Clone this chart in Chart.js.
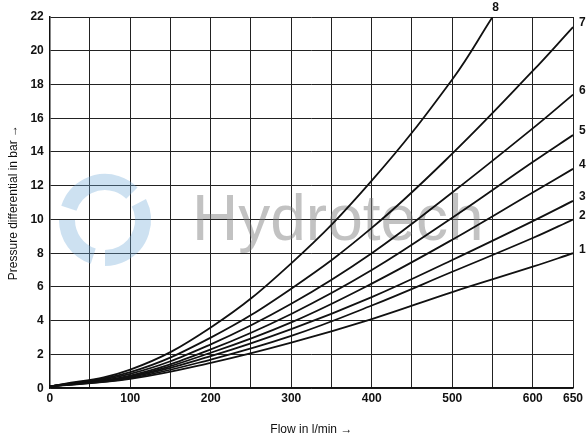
<!DOCTYPE html>
<html>
<head>
<meta charset="utf-8">
<script src="https://cdn.jsdelivr.net/npm/chart.js@4/dist/chart.umd.min.js"></script>
<style>
  html, body { margin: 0; padding: 0; background: #fff; }
  #wrap { width: 587px; height: 441px; position: relative; }
</style>
</head>
<body>
<div id="wrap"><canvas id="chart"></canvas></div>
<script>
const flowPoints = [0, 100, 200, 300, 400, 500, 600, 650];
const curve1 = [0.1, 0.55, 1.5, 2.7, 4.1, 5.7, 7.2, 8.0];
const curve2 = [0.1, 0.6, 1.7, 3.1, 4.9, 6.9, 8.9, 10.0];
const curve3 = [0.1, 0.65, 1.9, 3.5, 5.4, 7.6, 9.9, 11.1];
const curve4 = [0.1, 0.7, 2.1, 3.9, 6.2, 8.8, 11.6, 13.0];
const curve5 = [0.1, 0.75, 2.3, 4.4, 7.0, 10.1, 13.4, 15.0];
const curve6 = [0.1, 0.85, 2.6, 5.0, 8.0, 11.6, 15.4, 17.4];
const curve7 = [0.1, 0.95, 3.0, 5.9, 9.5, 13.9, 18.8, 21.4];
const flowPoints8 = [0, 100, 200, 300, 400, 500, 550];
const curve8 = [0.1, 1.1, 3.6, 7.4, 12.3, 18.3, 22.0];
const curveLabels = ['1', '2', '3', '4', '5', '6', '7', '8'];

function pts(xs, ys) { return xs.map((x, i) => ({ x: x, y: ys[i] })); }

const series = [curve1, curve2, curve3, curve4, curve5, curve6, curve7];
const datasets = series.map((s, i) => ({
    label: curveLabels[i],
    data: pts(flowPoints, s)
}));
datasets.push({ label: curveLabels[7], data: pts(flowPoints8, curve8) });
datasets.forEach(d => {
    d.borderColor = '#111';
    d.borderWidth = 1.8;
    d.pointRadius = 0;
    d.tension = 0.4;
    d.fill = false;
});

const fontFam = "'Liberation Sans Narrow', 'Liberation Sans', Arial, sans-serif";

const watermark = {
    id: 'watermark',
    beforeDatasetsDraw(chart) {
        const { ctx } = chart;
        ctx.save();
        ctx.globalAlpha = 0.35;
        ctx.strokeStyle = '#6fa8d6';
        ctx.lineWidth = 16;
        ctx.beginPath(); ctx.arc(105, 220, 38, Math.PI * 1.1, Math.PI * 1.75); ctx.stroke();
        ctx.beginPath(); ctx.arc(105, 220, 38, Math.PI * 1.85, Math.PI * 0.5); ctx.stroke();
        ctx.beginPath(); ctx.arc(105, 220, 38, Math.PI * 0.6, Math.PI * 1.0); ctx.stroke();
        ctx.globalAlpha = 0.45;
        ctx.fillStyle = '#777';
        ctx.font = "64px 'Liberation Sans', Arial, sans-serif";
        ctx.textBaseline = 'middle';
        ctx.fillText('Hydrotech', 192, 222);
        ctx.restore();
    }
};

const endLabels = {
    id: 'endLabels',
    afterDatasetsDraw(chart) {
        const { ctx } = chart;
        ctx.save();
        ctx.fillStyle = '#111';
        ctx.font = "bold 12px " + fontFam;
        chart.data.datasets.forEach((d, i) => {
            const el = chart.getDatasetMeta(i).data;
            const last = el[el.length - 1];
            if (i === 7) {
                ctx.textAlign = 'center';
                ctx.textBaseline = 'bottom';
                ctx.fillText(d.label, last.x + 3, last.y - 3);
            } else {
                ctx.textAlign = 'left';
                ctx.textBaseline = 'middle';
                ctx.fillText(d.label, last.x + 6, last.y - 4);
            }
        });
        ctx.restore();
    }
};

new Chart(document.getElementById('chart'), {
    type: 'line',
    data: { datasets: datasets },
    options: {
        responsive: true,
        maintainAspectRatio: false,
        animation: false,
        layout: { padding: { top: 17, right: 14, left: 2, bottom: 0 } },
        plugins: { legend: { display: false }, tooltip: { enabled: false } },
        scales: {
            x: {
                type: 'linear', min: 0, max: 650,
                ticks: {
                    stepSize: 50, autoSkip: false, maxRotation: 0,
                    color: '#111', font: { family: fontFam, size: 12, weight: 'bold' },
                    callback: v => (v % 100 === 0 || v === 650) ? v : ''
                },
                grid: { color: '#222', lineWidth: 1, drawTicks: false },
                border: { color: '#111', width: 1.5 },
                title: { display: true, text: 'Flow in l/min →', color: '#111',
                         font: { family: fontFam, size: 12 }, padding: { top: 14 } }
            },
            y: {
                min: 0, max: 22,
                ticks: { stepSize: 2, color: '#111', padding: 6,
                         font: { family: fontFam, size: 12, weight: 'bold' } },
                grid: { color: '#222', lineWidth: 1, drawTicks: false },
                border: { color: '#111', width: 1.5 },
                title: { display: true, text: 'Pressure differential in bar →', color: '#111',
                         font: { family: fontFam, size: 12 }, padding: { bottom: 4 } }
            }
        }
    },
    plugins: [watermark, endLabels]
});
</script>
</body>
</html>
